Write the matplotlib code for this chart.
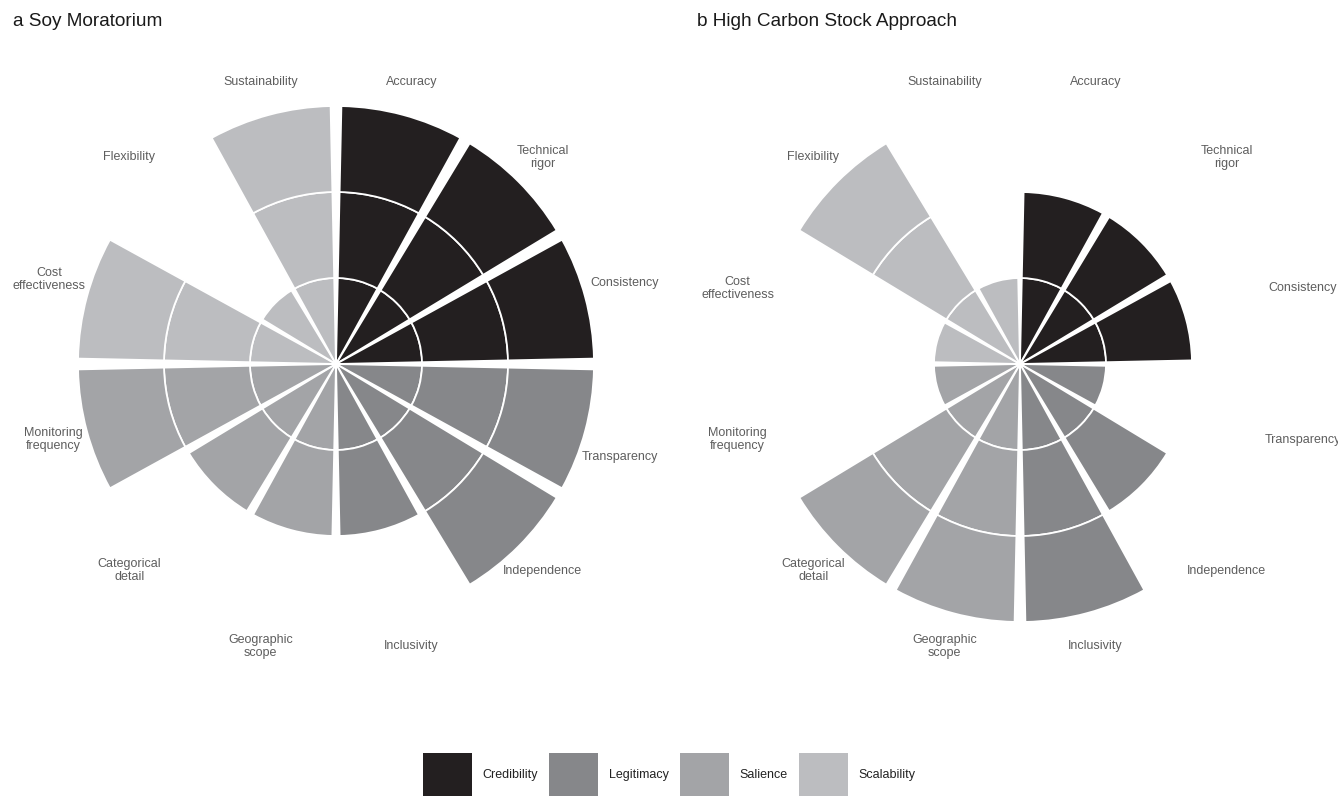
import numpy as np
import matplotlib.pyplot as plt
from matplotlib.patches import Patch

plt.rcParams['font.family'] = ['Liberation Sans', 'DejaVu Sans']

# criteria, clockwise from 12 o'clock
criteria = ['Accuracy', 'Technical\nrigor', 'Consistency',
            'Transparency', 'Independence', 'Inclusivity',
            'Geographic\nscope', 'Categorical\ndetail', 'Monitoring\nfrequency',
            'Cost\neffectiveness', 'Flexibility', 'Sustainability']
groups = ['Credibility'] * 3 + ['Legitimacy'] * 3 + ['Salience'] * 3 + ['Scalability'] * 3

soy_scores = [3, 3, 3, 3, 3, 2, 2, 2, 3, 3, 1, 3]
hcs_scores = [2, 2, 2, 1, 2, 3, 3, 3, 1, 1, 3, 1]

group_names = ['Credibility', 'Legitimacy', 'Salience', 'Scalability']
group_colors = {'Credibility': '#231f20', 'Legitimacy': '#86878a',
                'Salience': '#a3a4a7', 'Scalability': '#bcbdc0'}

panel_titles = ['a Soy Moratorium', 'b High Carbon Stock Approach']

# labels moved a little in panel a so they clear the long bars (points)
soy_nudge = {'Consistency': (4.3, 3.6), 'Transparency': (1.4, -12.2),
             'Cost\neffectiveness': (-3.0, 6.5)}

W, H = 1338, 796
fig = plt.figure(figsize=(W / 100, H / 100), dpi=100)

rmax = 3.5
px_per_unit = 86
half = rmax * px_per_unit
centers = [(336, 364), (1020, 364)]

n = len(criteria)
step = 2 * np.pi / n
theta = np.arange(n) * step + step / 2


def draw_panel(ax, scores, nudge):
    ax.set_theta_zero_location('N')
    ax.set_theta_direction(-1)
    for i, v in enumerate(scores):
        col = group_colors[groups[i]]
        for k in range(v):
            ax.bar(theta[i], 1, width=step * 0.92, bottom=k, color=col,
                   edgecolor='white', linewidth=1.3, align='center')
    for i, lab in enumerate(criteria):
        ax.annotate(lab, (theta[i], 3.4), xytext=nudge.get(lab, (0, 0)),
                    textcoords='offset points', ha='center', va='center',
                    fontsize=9, color='#5e5e5e', linespacing=1.1,
                    annotation_clip=False)
    ax.set_ylim(0, rmax)
    ax.set_axis_off()


for (cx, cy), scores, title, nudge in zip(centers, [soy_scores, hcs_scores],
                                          panel_titles, [soy_nudge, {}]):
    ax = fig.add_axes([(cx - half) / W, (H - cy - half) / H, 2 * half / W, 2 * half / H],
                      projection='polar')
    draw_panel(ax, scores, nudge)
    fig.text((cx - 323) / W, 1 - 21 / H, title, fontsize=13.7, color='#1a1a1a',
             ha='left', va='center')

handles = [Patch(facecolor=group_colors[g], edgecolor='none', label=g) for g in group_names]
fig.legend(handles=handles, loc='lower center', bbox_to_anchor=(0.5, -0.002), ncol=4,
           frameon=False, fontsize=9, handlelength=3.92, handleheight=5.16,
           handletextpad=0.85, columnspacing=0.9, borderpad=0, borderaxespad=0,
           labelcolor='#222222')

fig.savefig('out.png', dpi=100, facecolor='white')
